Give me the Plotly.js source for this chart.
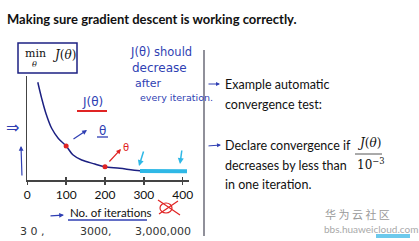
<!DOCTYPE html>
<html>
<head>
<meta charset="utf-8">
<script src="https://cdn.plot.ly/plotly-3.0.1.min.js"></script>
<style>html,body{margin:0;padding:0;background:#fff;}#chart{width:419px;height:241px;}</style>
</head>
<body>
<div id="chart"></div>
<script>
// ---- data ----
const iterations = [27, 37, 48, 63, 80, 100, 118, 140, 174, 198, 238, 290, 350, 411];
const costJ      = [9.4, 7.85, 6.4, 4.95, 4.0, 3.27, 2.4, 1.92, 1.54, 1.28, 1.12, 0.89, 0.85, 0.82];
const markedIterations = [100, 200];
const markedCost       = [3.27, 1.28];
const convergedIterations = [290, 350, 411];
const convergedCost       = [0.86, 0.85, 0.83];
const tickValues = [0, 100, 200, 300, 400];
const tickLabels = ['0', '100', '200', '300', '400'];

const W = 419, H = 241;
const px = x => x / W;
const py = y => 1 - y / H;

const navy = '#1c2082';
const ink = '#2f3fb3';
const red = '#e02424';
const cyan = '#2fb8e6';
const txt = '#111111';
const sans = 'Lato, "Open Sans", sans-serif';
const serif = '"DejaVu Serif", "Liberation Serif", serif';
const hand = '"DejaVu Sans", sans-serif';

const traces = [
  {x: iterations, y: costJ, mode: 'lines', line: {color: navy, width: 1.5, shape: 'spline'}, hoverinfo: 'skip'},
  {x: convergedIterations, y: convergedCost, mode: 'lines', line: {color: cyan, width: 4}, hoverinfo: 'skip'},
  {x: markedIterations, y: markedCost, mode: 'markers', marker: {color: red, size: 5}, hoverinfo: 'skip'}
];

function t(text, x, y, opts) {
  return Object.assign({text: text, x: px(x), y: py(y), xref: 'paper', yref: 'paper',
    showarrow: false, xanchor: 'left', yanchor: 'middle',
    font: {family: sans, size: 12.5, color: txt}}, opts || {});
}
function arrow(x0, y0, x1, y1, color, w) {
  return {text: '', x: px(x1), y: py(y1), xref: 'paper', yref: 'paper',
    ax: x0 - x1, ay: y0 - y1, showarrow: true, arrowhead: 2, arrowsize: 0.8,
    arrowwidth: w || 1.2, arrowcolor: color};
}

const annotations = [
  t('<b>Making sure gradient descent is working correctly.</b>', 5, 19, {font: {family: sans, size: 13, color: txt}}),
  // min box
  t('min', 23, 54, {font: {family: serif, size: 11, color: txt}}),
  t('<i>θ</i>', 34, 65, {xanchor: 'center', font: {family: serif, size: 8, color: txt}}),
  t('<i>J</i>(<i>θ</i>)', 50, 55, {font: {family: serif, size: 12, color: txt}}),
  // handwritten notes
  t('J(θ) should', 128, 52, {font: {family: hand, size: 11.5, color: ink}}),
  t('decrease', 130, 68, {font: {family: hand, size: 12, color: ink}}),
  t('after', 133, 83, {font: {family: hand, size: 11, color: ink}}),
  t('every iteration.', 138, 97, {font: {family: hand, size: 9.5, color: ink}}),
  t('J(θ)', 92, 102, {xanchor: 'center', font: {family: hand, size: 12, color: ink}}),
  t('θ', 102, 131, {xanchor: 'center', font: {family: hand, size: 12, color: ink}}),
  t('θ', 126, 147, {xanchor: 'center', font: {family: hand, size: 10, color: red}}),
  t('⇒', 21, 127, {xanchor: 'right', font: {family: hand, size: 16, color: ink}}),
  arrow(72, 140, 87, 130, ink),
  arrow(108, 163, 121, 149, red),
  arrow(22, 177, 21, 146, ink),
  arrow(144, 150, 139, 166, cyan, 1.5),
  arrow(182, 149, 180, 164, cyan, 1.5),
  // x axis title
  t('No. of iterations', 68, 212, {font: {family: sans, size: 11.5, color: txt}}),
  arrow(49, 216, 64, 215, ink),
  t('3 0 ,', 18, 231, {font: {family: hand, size: 11, color: '#333'}}),
  t('3000,', 78, 231, {font: {family: hand, size: 11, color: '#333'}}),
  t('3,000,000', 133, 231, {font: {family: hand, size: 11, color: '#333'}}),
  // right text
  arrow(207, 84, 220, 84, ink, 1),
  t('Example automatic', 223, 84),
  t('convergence test:', 223, 104),
  arrow(207, 146, 221, 145, ink, 1),
  t('Declare convergence if', 223, 145),
  t('<i>J</i>(<i>θ</i>)', 355, 143, {font: {family: serif, size: 12, color: txt}}),
  t('decreases by less than', 223, 165),
  t('10<sup>−3</sup>', 355, 164, {font: {family: serif, size: 12, color: txt}}),
  t('in one iteration.', 223, 184),
  // watermark
  t('华 为 云 社 区', 323, 214, {font: {family: '"Noto Sans CJK SC", sans-serif', size: 11, color: '#9a9a9a'}}),
  t('bbs.huaweicloud.com', 322, 229, {font: {family: sans, size: 10, color: '#a8a8a8'}})
];

function line(x0, y0, x1, y1, color, w) {
  return {type: 'line', xref: 'paper', yref: 'paper', x0: px(x0), y0: py(y0), x1: px(x1), y1: py(y1),
    line: {color: color, width: w}};
}
const shapes = [
  {type: 'rect', xref: 'paper', yref: 'paper', x0: px(18), y0: py(73), x1: px(77), y1: py(43),
    line: {color: navy, width: 1.5}},
  line(204, 50, 204, 236, '#6b6b78', 1.5),
  line(77, 111, 107, 111, red, 2),
  line(97, 137, 108, 137, ink, 1.3),
  line(68, 220, 147, 220, ink, 1.3),
  line(355, 154, 382, 154, '#555', 1),
  {type: 'circle', xref: 'paper', yref: 'paper', x0: px(160), y0: py(213), x1: px(172), y1: py(203),
    line: {color: red, width: 1.2}},
  line(158, 200, 180, 215, red, 1.2),
  line(159, 214, 178, 201, red, 1.2),
  {type: 'rect', xref: 'paper', yref: 'paper', x0: px(376), y0: py(238), x1: px(410), y1: py(234),
    line: {width: 0}, fillcolor: '#6cc9ec'}
];

const layout = {
  width: W, height: H,
  margin: {l: 0, r: 0, t: 0, b: 0},
  paper_bgcolor: '#fff', plot_bgcolor: 'rgba(0,0,0,0)',
  showlegend: false,
  xaxis: {domain: [px(27.3), px(189)], range: [0, 416.2], showgrid: false, zeroline: false,
    showline: true, linecolor: '#444', linewidth: 1.5,
    ticks: 'outside', ticklen: 3, tickwidth: 1.5, tickcolor: '#444',
    tickvals: tickValues, ticktext: tickLabels,
    tickfont: {family: sans, size: 12, color: txt}},
  xaxis2: {overlaying: 'x', matches: 'x', anchor: 'y', domain: [px(27.3), px(189)], range: [0, 416.2],
    showgrid: false, zeroline: false, showline: false, ticks: 'inside', ticklen: 3, tickwidth: 1.5,
    tickcolor: '#444', tickvals: tickValues, showticklabels: false},
  yaxis: {domain: [py(180), py(76)], range: [0, 10], showgrid: false, zeroline: false,
    showline: true, linecolor: '#444', linewidth: 1.5, ticks: '', showticklabels: false},
  annotations: annotations,
  shapes: shapes
};
traces.push({x: [0], y: [0], xaxis: 'x2', yaxis: 'y', mode: 'markers', marker: {opacity: 0}, hoverinfo: 'skip'});
Plotly.newPlot('chart', traces, layout, {staticPlot: true});
</script>
</body>
</html>
